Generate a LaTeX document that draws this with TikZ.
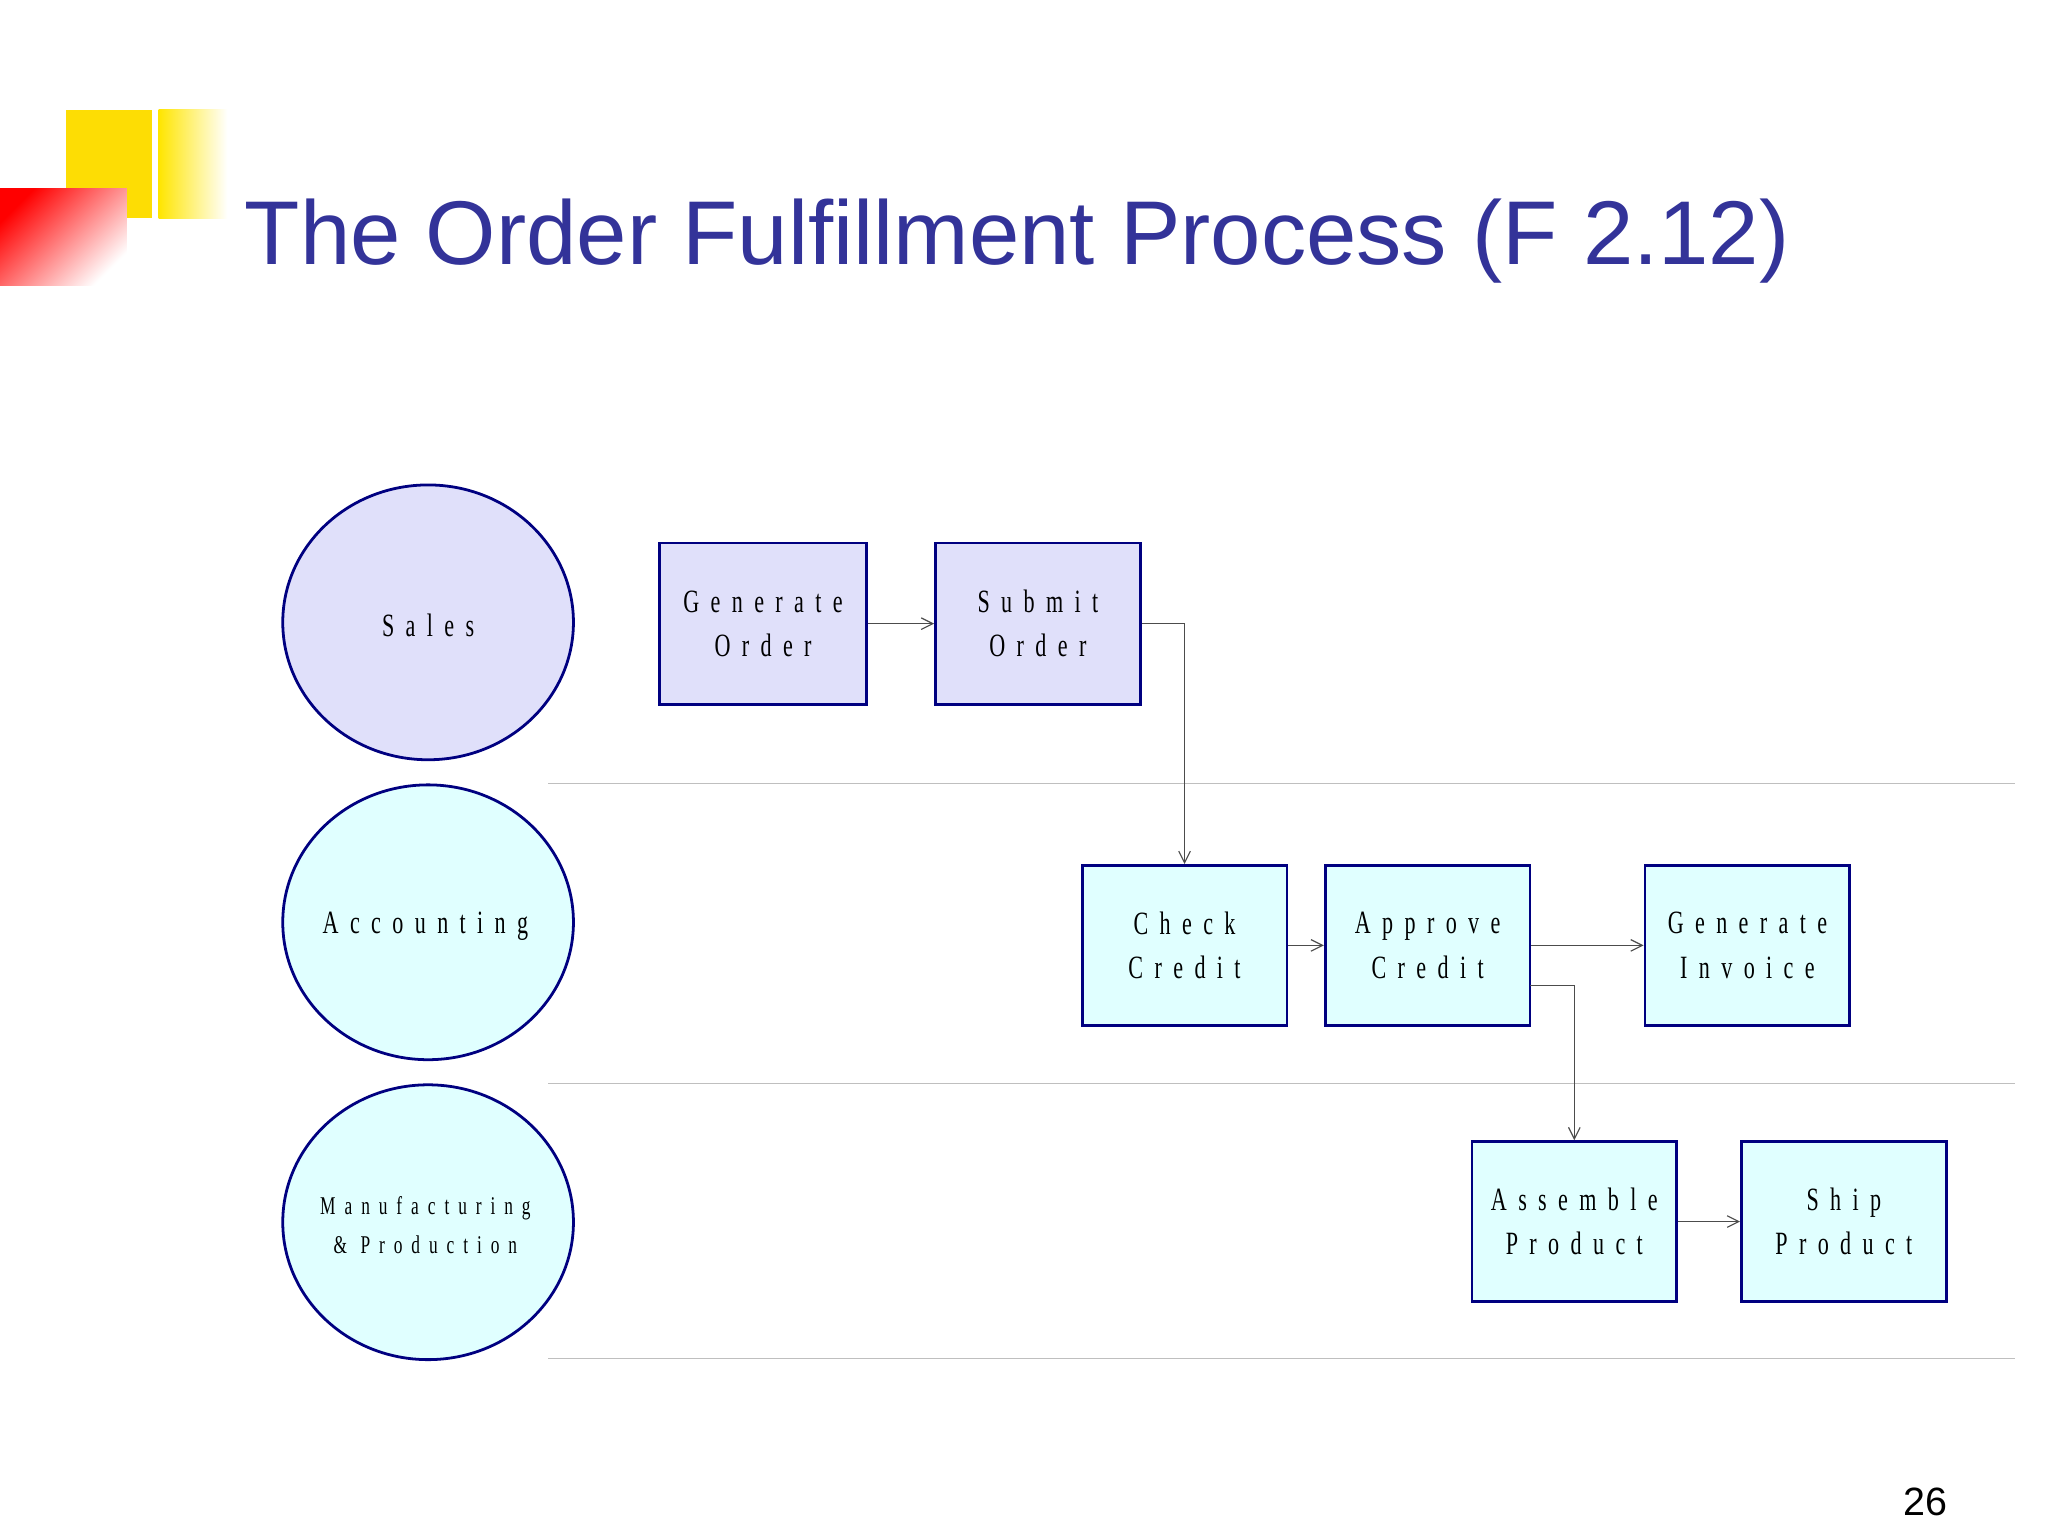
\documentclass[tikz,border=0pt]{standalone}
\usepackage{fontspec}
\setmainfont{Liberation Sans}
\newfontfamily\boxfont{Liberation Serif}[FakeStretch=0.68,LetterSpace=35]
\usetikzlibrary{arrows.meta}
\definecolor{navy}{HTML}{000080}
\definecolor{titleblue}{HTML}{333399}
\definecolor{lav}{HTML}{E0E0FA}
\definecolor{lcyan}{HTML}{E0FFFF}
\begin{document}
\begin{tikzpicture}[x=0.02cm,y=-0.02cm,
  box/.style={draw=navy,line width=1.2pt,align=center,font=\boxfont\fontsize{14}{19}\selectfont,inner sep=0pt},
  arr/.style={draw=black!70,line width=0.5pt,-{Straight Barb[length=5pt,width=5pt]}},
  lane/.style={draw=black!25,line width=0.6pt}]
\useasboundingbox (0,0) rectangle (1550,1162.5);
\fill[white] (0,0) rectangle (1550,1162.5);
% decoration
\fill[yellow!80!orange] (50,83) rectangle (115,165);
\shade[left color=yellow!80!orange,right color=white] (120,83) rectangle (172,165);
\shade[left color=red,right color=white,shading angle=45] (0,143) rectangle (96,216);
\node[anchor=base west,text=titleblue,font=\fontsize{39}{44}\selectfont,inner sep=0pt] (title) at (185,200) {The Order Fulfillment Process (F 2.12)};
\node[anchor=base,font=\fontsize{17}{20}\selectfont,inner sep=0pt] (pg) at (1457,1147) {26};
% lanes
\draw[lane] (415,593) -- (1525,593);
\draw[lane] (415,820) -- (1525,820);
\draw[lane] (415,1028) -- (1525,1028);
% ellipses
\path[draw=navy,line width=1.2pt,fill=lav] (324,471) ellipse [x radius=110,y radius=104];
\node[font=\boxfont\fontsize{14}{19}\selectfont] (sales) at (324,473) {Sales};
\path[draw=navy,line width=1.2pt,fill=lcyan] (324,698) ellipse [x radius=110,y radius=104];
\node[font=\boxfont\fontsize{14}{19}\selectfont] (acc) at (322,701) {Accounting};
\path[draw=navy,line width=1.2pt,fill=lcyan] (324,925) ellipse [x radius=110,y radius=104];
\node[align=center,font=\boxfont\fontsize{11}{17}\selectfont] (man) at (322,927) {Manufacturing\\\& Production};
% boxes
\node[box,fill=lav,minimum width=157*0.02cm,minimum height=122*0.02cm] (go) at (577.5,472) {Generate\\Order};
\node[box,fill=lav,minimum width=155*0.02cm,minimum height=122*0.02cm] (so) at (785.5,472) {Submit\\Order};
\node[box,fill=lcyan,minimum width=155*0.02cm,minimum height=121*0.02cm] (cc) at (896.5,715.5) {Check\\Credit};
\node[box,fill=lcyan,minimum width=155*0.02cm,minimum height=121*0.02cm] (ac) at (1080.5,715.5) {Approve\\Credit};
\node[box,fill=lcyan,minimum width=155*0.02cm,minimum height=121*0.02cm] (gi) at (1322.5,715.5) {Generate\\Invoice};
\node[box,fill=lcyan,minimum width=155*0.02cm,minimum height=121*0.02cm] (ap) at (1191.5,924.5) {Assemble\\Product};
\node[box,fill=lcyan,minimum width=155*0.02cm,minimum height=121*0.02cm] (sp) at (1395.5,924.5) {Ship\\Product};
% arrows
\draw[arr] (go) -- (so);
\draw[arr] (so.east) -| (cc.north);
\draw[arr] (cc) -- (ac);
\draw[arr] (ac) -- (gi);
\coordinate (acb) at (1158,746);
\draw[arr] (acb) -| (ap.north);
\draw[arr] (ap) -- (sp);
\end{tikzpicture}
\end{document}
